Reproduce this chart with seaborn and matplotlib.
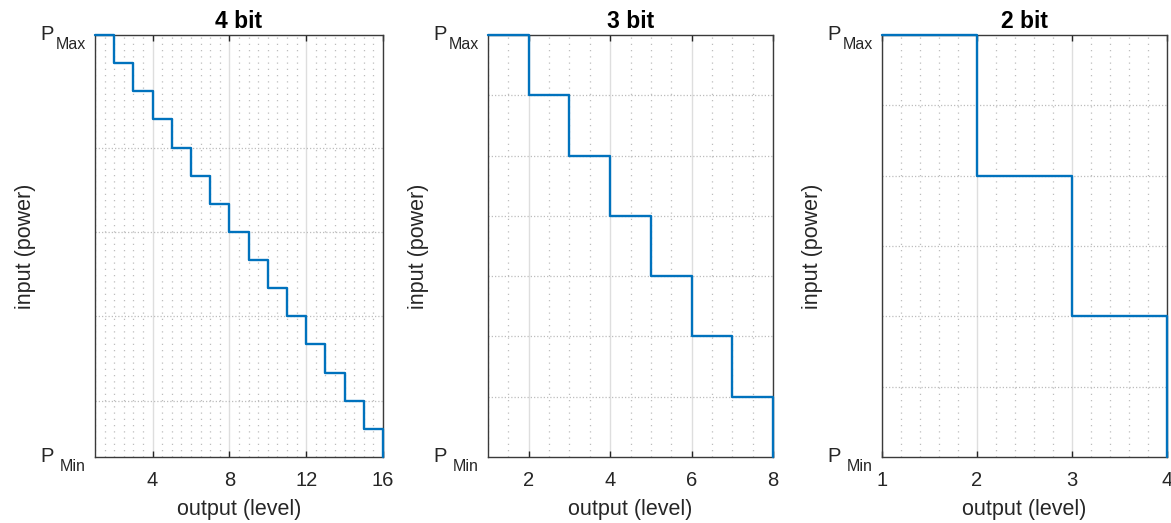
import matplotlib
matplotlib.use('Agg')
import matplotlib.pyplot as plt
import matplotlib.transforms as mtransforms
from matplotlib.ticker import MultipleLocator, FixedLocator
import pandas as pd
import seaborn as sns

# Quantiser staircases: output level vs input power step (0 = P_Min, top = P_Max)
titles = ['4 bit', '3 bit', '2 bit']

levels_4bit = [1, 2, 3, 4, 5, 6, 7, 8, 9, 10, 11, 12, 13, 14, 15, 16]
power_4bit = [15, 14, 13, 12, 11, 10, 9, 8, 7, 6, 5, 4, 3, 2, 1, 0]
levels_3bit = [1, 2, 3, 4, 5, 6, 7, 8]
power_3bit = [7, 6, 5, 4, 3, 2, 1, 0]
levels_2bit = [1, 2, 3, 4]
power_2bit = [3, 2, 1, 0]

xticks_4bit = [4, 8, 12, 16]
xticks_3bit = [2, 4, 6, 8]
xticks_2bit = [1, 2, 3, 4]
xminor_step = [0.5, 0.5, 0.2]
yminor_4bit = [2, 5, 8, 11]
yminor_3bit = [1, 2, 3, 4, 5, 6]
yminor_2bit = [0.5, 1, 1.5, 2, 2.5]
ytick_labels = ['P', 'P']
ytick_subs = ['Min', 'Max']

sns.set_style('white')
plt.rcParams['font.family'] = ['Liberation Sans', 'DejaVu Sans']

W, H = 1171, 523
fig = plt.figure(figsize=(W / 100, H / 100), dpi=100)

panels = [
    (levels_4bit, power_4bit, xticks_4bit, yminor_4bit),
    (levels_3bit, power_3bit, xticks_3bit, yminor_3bit),
    (levels_2bit, power_2bit, xticks_2bit, yminor_2bit),
]
lefts = [95, 488, 882]
widths = [288, 285, 285]
txt = '#262626'

for i, (levels, power, xticks, yminor) in enumerate(panels):
    ax = fig.add_axes([lefts[i] / W, 1 - 457 / H, widths[i] / W, 422 / H])
    df = pd.DataFrame({'level': levels, 'power': power})
    sns.lineplot(data=df, x='level', y='power', drawstyle='steps-post',
                 color='#0072BD', lw=1.7, ax=ax, clip_on=False, zorder=4)

    ax.set_xlim(levels[0], levels[-1])
    ax.set_ylim(0, power[0])
    ax.set_xticks(xticks)
    ax.set_yticks([0, power[0]])
    ax.set_yticklabels(ytick_labels)
    ax.xaxis.set_minor_locator(MultipleLocator(xminor_step[i]))
    ax.yaxis.set_minor_locator(FixedLocator(yminor))

    ax.set_axisbelow(True)
    ax.xaxis.grid(True, which='major', color='#dedede', lw=1.0, ls='-')
    ax.xaxis.grid(True, which='minor', color='#bdbdbd', lw=0.9, ls=(0, (1, 4)))
    ax.yaxis.grid(True, which='minor', color='#bdbdbd', lw=0.9, ls=(0, (1, 1.6)))
    ax.yaxis.grid(False, which='major')

    ax.tick_params(axis='x', which='major', direction='in', top=True, bottom=True,
                   length=4, width=1, color=txt, labelsize=14.5, pad=10, labelcolor=txt)
    ax.tick_params(axis='y', which='major', length=0, labelsize=14.5, pad=30, labelcolor=txt)
    ax.tick_params(which='minor', length=0)

    # shift the "P" up a little, and hang the subscript under it
    for lab in ax.get_yticklabels():
        lab.set_transform(lab.get_transform() +
                          mtransforms.ScaledTranslation(0, 3 / 100, fig.dpi_scale_trans))
    for y, sub in zip([0, power[0]], ytick_subs):
        ax.annotate(sub, xy=(0, y), xycoords=('axes fraction', 'data'),
                    xytext=(-6.5, -6.5), textcoords='offset points',
                    ha='right', va='center', fontsize=11.5, color=txt)

    for sp in ax.spines.values():
        sp.set_visible(True)
        sp.set_color('#3a3a3a')
        sp.set_linewidth(1.0)

    ax.set_title(titles[i], fontsize=16.5, fontweight='bold', pad=5, color='black')
    ax.set_xlabel('output (level)', fontsize=15.5, color=txt)
    ax.set_ylabel('input (power)', fontsize=15.5, color=txt)
    ax.xaxis.set_label_coords(0.5, -0.1)
    ax.yaxis.set_label_coords(-59 / widths[i], 0.5)

fig.savefig('out.png', dpi=100)
